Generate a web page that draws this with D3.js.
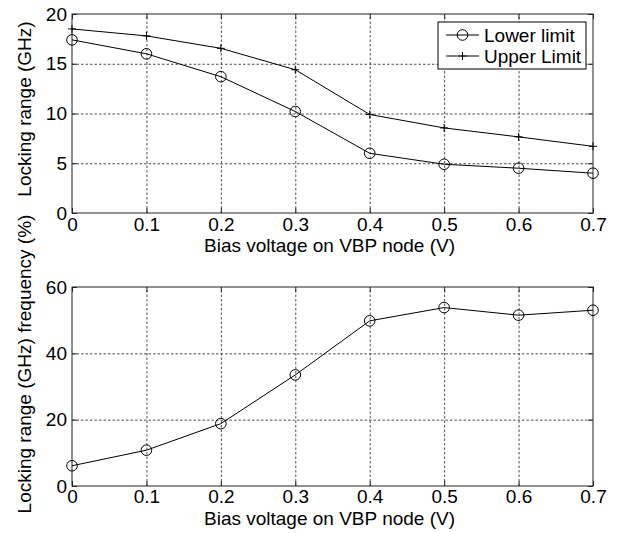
<!DOCTYPE html>
<html>
<head>
<meta charset="utf-8">
<script src="https://cdn.jsdelivr.net/npm/d3@7"></script>
<style>
  body { margin: 0; background: #fff; }
  svg text { font-family: Arial, "Liberation Sans", sans-serif; fill: #000; }
  .grid line { stroke: #222; stroke-width: 0.8; stroke-dasharray: 2.5,2; }
  .grid path { display: none; }
  .ticks path { display: none; }
  .ticks line { stroke: #222; }
  .labels path, .labels line { display: none; }
  .labels text { font-size: 19px; }
</style>
</head>
<body>
<svg id="chart" width="619" height="533"></svg>
<script>
const bias = [0, 0.1, 0.2, 0.3, 0.4, 0.5, 0.6, 0.7];
const lowerLimit = [17.4, 16.0, 13.7, 10.2, 6.0, 4.9, 4.5, 4.0];
const upperLimit = [18.5, 17.8, 16.55, 14.4, 9.9, 8.55, 7.65, 6.7];
const lockingPct = [6.1, 10.8, 18.8, 33.5, 49.8, 53.8, 51.5, 53.0];

const xTicks = [0, 0.1, 0.2, 0.3, 0.4, 0.5, 0.6, 0.7];
const yTicksTop = [0, 5, 10, 15, 20];
const yTicksBottom = [0, 20, 40, 60];

const xLabel = "Bias voltage on VBP node (V)";
const yLabelTop = "Locking range (GHz)";
const yLabelBottom = "Locking range (GHz) frequency (%)";
const legendNames = ["Lower limit", "Upper Limit"];

const svg = d3.select("#chart");
svg.append("rect").attr("width", 619).attr("height", 533).attr("fill", "#fff");

const left = 72, right = 593;
const x = d3.scaleLinear().domain([0, 0.7]).range([left, right]);

function drawPanel(cfg) {
  const { top, bottom, y, yTicks, yLabel, yLabelY, xLabelY, xPad } = cfg;
  const w = right - left, h = bottom - top;
  const g = svg.append("g");

  // dotted grid
  g.append("g").attr("class", "grid")
    .attr("transform", `translate(0,${bottom})`)
    .call(d3.axisBottom(x).tickValues(xTicks.slice(1, -1)).tickSize(-h).tickFormat(""));
  g.append("g").attr("class", "grid")
    .attr("transform", `translate(${left},0)`)
    .call(d3.axisLeft(y).tickValues(yTicks.slice(1, -1)).tickSize(-w).tickFormat(""));

  // inward ticks on all four sides
  g.append("g").attr("class", "ticks").attr("transform", `translate(0,${bottom})`)
    .call(d3.axisBottom(x).tickValues(xTicks).tickSize(-5).tickFormat(""));
  g.append("g").attr("class", "ticks").attr("transform", `translate(0,${top})`)
    .call(d3.axisTop(x).tickValues(xTicks).tickSize(-5).tickFormat(""));
  g.append("g").attr("class", "ticks").attr("transform", `translate(${left},0)`)
    .call(d3.axisLeft(y).tickValues(yTicks).tickSize(-5).tickFormat(""));
  g.append("g").attr("class", "ticks").attr("transform", `translate(${right},0)`)
    .call(d3.axisRight(y).tickValues(yTicks).tickSize(-5).tickFormat(""));

  // tick labels
  g.append("g").attr("class", "labels").attr("transform", `translate(0,${bottom})`)
    .call(d3.axisBottom(x).tickValues(xTicks).tickSize(0).tickPadding(xPad).tickFormat(d3.format("")));
  g.append("g").attr("class", "labels").attr("transform", `translate(${left},0)`)
    .call(d3.axisLeft(y).tickValues(yTicks).tickSize(0).tickPadding(5).tickFormat(d3.format("")));

  // box
  g.append("rect").attr("x", left).attr("y", top).attr("width", w).attr("height", h)
    .attr("fill", "none").attr("stroke", "#222").attr("stroke-width", 1);

  g.append("text").attr("x", (left + right) / 2 - 3).attr("y", xLabelY)
    .attr("text-anchor", "middle").attr("font-size", 19).text(xLabel);
  g.append("text").attr("transform", `translate(31,${yLabelY}) rotate(-90)`)
    .attr("text-anchor", "middle").attr("font-size", 19).text(yLabel);
  return g;
}

function drawSeries(g, y, values, marker) {
  const pts = bias.map((b, i) => [x(b), y(values[i])]);
  g.append("path").attr("d", d3.line()(pts))
    .attr("fill", "none").attr("stroke", "#000").attr("stroke-width", 1);
  pts.forEach(p => drawMarker(g, p[0], p[1], marker));
}

function drawMarker(g, cx, cy, marker) {
  if (marker === "circle") {
    g.append("circle").attr("cx", cx).attr("cy", cy).attr("r", 5.3)
      .attr("fill", "none").attr("stroke", "#000").attr("stroke-width", 1);
  } else {
    g.append("path").attr("d", `M${cx - 4},${cy}H${cx + 4}M${cx},${cy - 4}V${cy + 4}`)
      .attr("stroke", "#000").attr("stroke-width", 1);
  }
}

// top panel
const yTop = d3.scaleLinear().domain([0, 20]).range([213, 14]);
const gTop = drawPanel({ top: 14, bottom: 213, y: yTop, yTicks: yTicksTop,
  yLabel: yLabelTop, yLabelY: 109, xLabelY: 252, xPad: 5 });
drawSeries(gTop, yTop, upperLimit, "plus");
drawSeries(gTop, yTop, lowerLimit, "circle");

// legend
const leg = gTop.append("g");
leg.append("rect").attr("x", 438).attr("y", 22).attr("width", 148).attr("height", 47)
  .attr("fill", "#fff").attr("stroke", "#000").attr("stroke-width", 1);
[["circle", 35], ["plus", 56]].forEach(([m, ly], i) => {
  leg.append("line").attr("x1", 446).attr("x2", 479).attr("y1", ly).attr("y2", ly)
    .attr("stroke", "#000").attr("stroke-width", 1);
  drawMarker(leg, 462.5, ly, m);
  leg.append("text").attr("x", 484).attr("y", ly + 7).attr("font-size", 19).text(legendNames[i]);
});

// bottom panel
const yBot = d3.scaleLinear().domain([0, 60]).range([486, 287]);
const gBot = drawPanel({ top: 287, bottom: 486, y: yBot, yTicks: yTicksBottom,
  yLabel: yLabelBottom, yLabelY: 364, xLabelY: 525, xPad: 4 });
drawSeries(gBot, yBot, lockingPct, "circle");
</script>
</body>
</html>
